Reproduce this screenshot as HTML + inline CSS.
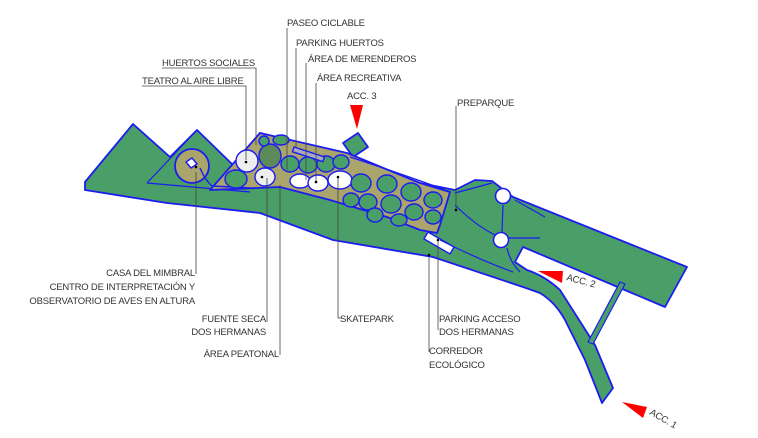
<!DOCTYPE html>
<html><head><meta charset="utf-8"><style>
html,body{margin:0;padding:0;background:#fff;}
svg{display:block;}
text{font-family:"Liberation Sans",sans-serif;font-size:9.5px;fill:#333;letter-spacing:-0.2px;}
</style></head><body>
<svg width="758" height="438" viewBox="0 0 758 438" xmlns="http://www.w3.org/2000/svg">
<g stroke="#1c1cf0" stroke-width="1.8" stroke-linejoin="round">
<path fill="#4a9e68" d="M85,182 L133,124 L170,157 L197,130 L233,165 L260,133 L350,157 L420,183 L455,190 L475,180 L492,181 L513,197 L687,267 L665,307 L523,247 L515,262 L527,270 Q545,276 560,290 L595,345 L613,388 L602,403 L585,360 L565,320 Q555,302 540,293 L523,287 L433,257 L333,240 L260,213 L167,203 L85,190 Z"/>
<path fill="#4a9e68" d="M343,143 L358,133 L368,147 L353,157 Z"/>
<path fill="#4a9e68" stroke-width="1.2" d="M620,282 L625,284 L593,344 L588,342 Z"/>
<path fill="none" stroke-width="1.2" d="M147,183 L197,130 M147,183 L250,192"/>
<path fill="#a9a56c" d="M260,133 L347,153 L420,183 L450,192 L440,225 L437,233 L420,230 L387,217 L330,200 L280,187 L210,190 Z"/>
<circle cx="192" cy="166" r="17" fill="#a9a56c"/>
<path fill="#fff" stroke-width="1.4" d="M186,162 L192,158 L197,164 L191,168 Z"/>
<path fill="none" stroke-width="1.4" d="M200,168 Q205,180 212,186 L250,188"/>
</g>
<g stroke="#1c1cf0" stroke-width="1.4" fill="#4a9e68">
<ellipse cx="247" cy="161" rx="11" ry="11" fill="#eee"/>
<ellipse cx="270" cy="156" rx="11" ry="12" fill="#5d8a5a"/>
<ellipse cx="265" cy="177" rx="10" ry="9" fill="#eee"/>
<ellipse cx="236" cy="179" rx="11" ry="9"/>
<ellipse cx="264" cy="141" rx="5" ry="5"/>
<ellipse cx="281" cy="140" rx="8" ry="5"/>
<ellipse cx="290" cy="164" rx="9" ry="8"/>
<ellipse cx="308" cy="165" rx="9" ry="8"/>
<ellipse cx="300" cy="181" rx="10" ry="7" fill="#fff"/>
<ellipse cx="318" cy="183" rx="10" ry="8" fill="#fff"/>
<ellipse cx="340" cy="180" rx="12" ry="9" fill="#fff"/>
<ellipse cx="326" cy="164" rx="9" ry="8"/>
<ellipse cx="341" cy="162" rx="8" ry="7"/>
<ellipse cx="361" cy="183" rx="10" ry="9"/>
<ellipse cx="368" cy="202" rx="9" ry="8"/>
<ellipse cx="351" cy="200" rx="8" ry="7"/>
<ellipse cx="387" cy="184" rx="10" ry="9"/>
<ellipse cx="391" cy="204" rx="10" ry="9"/>
<ellipse cx="411" cy="192" rx="10" ry="9"/>
<ellipse cx="414" cy="212" rx="9" ry="8"/>
<ellipse cx="433" cy="200" rx="9" ry="8"/>
<ellipse cx="433" cy="217" rx="8" ry="7"/>
<ellipse cx="375" cy="215" rx="8" ry="7"/>
<ellipse cx="399" cy="220" rx="8" ry="6"/>
<rect x="294" y="147" width="32" height="5" fill="#aab" transform="rotate(18 294 147)"/>
<rect x="428" y="232" width="30" height="8" fill="#fff" transform="rotate(30 428 232)"/>
</g>
<g fill="none" stroke="#1c1cf0" stroke-width="1.2">
<path d="M350,157 Q420,180 450,192"/>
<path d="M455,193 L492,183"/>
<path d="M515,200 L545,217"/>
<path d="M455,205 Q475,225 495,235"/>
<path d="M508,238 L540,238"/>
<path d="M440,240 Q480,260 513,272"/>
<path d="M503,205 L502,232 M507,248 Q510,262 520,272"/>
</g>
<circle cx="503" cy="196" r="7.5" fill="#fff" stroke="#1c1cf0" stroke-width="1.6"/>
<circle cx="501" cy="240" r="7.5" fill="#fff" stroke="#1c1cf0" stroke-width="1.6"/>
<polygon fill="#f00" points="350,105 363,105 357,129"/>
<polygon fill="#f00" points="538,271 563,271 562,283"/>
<polygon fill="#f00" points="622,402 647,407 643,418"/>
<g stroke="#444" stroke-width="0.8" fill="none">
<path d="M287,28 V170"/>
<path d="M296,48 V148"/>
<path d="M306,63 V180"/>
<path d="M316,83 V182"/>
<path d="M162,68 H256 V145"/>
<path d="M142,86 H246 V160"/>
<path d="M456,106 V210"/>
<path d="M196,172 V274"/>
<path d="M267,178 V322"/>
<path d="M280,185 V355"/>
<path d="M338,176 V318 H342"/>
<path d="M438,238 V330"/>
<path d="M429,255 V352"/>
</g>
<g fill="#000">
<circle cx="246" cy="162" r="1.3"/><circle cx="262" cy="177" r="1.3"/><circle cx="316" cy="182" r="1.3"/><circle cx="338" cy="177" r="1.3"/><circle cx="456" cy="210" r="1.3"/><circle cx="438" cy="240" r="1.3"/><circle cx="429" cy="255" r="1.3"/><circle cx="196" cy="167" r="1.3"/>
</g>
<text x="287" y="26">PASEO CICLABLE</text>
<text x="296" y="46">PARKING HUERTOS</text>
<text x="308" y="62">ÁREA DE MERENDEROS</text>
<text x="317" y="81">ÁREA RECREATIVA</text>
<text x="347" y="99">ACC. 3</text>
<text x="162" y="66">HUERTOS SOCIALES</text>
<text x="142" y="84">TEATRO AL AIRE LIBRE</text>
<text x="457" y="106">PREPARQUE</text>
<g text-anchor="end">
<text x="195" y="276">CASA DEL MIMBRAL</text>
<text x="195" y="290">CENTRO DE INTERPRETACIÓN Y</text>
<text x="195" y="304">OBSERVATORIO DE AVES EN ALTURA</text>
<text x="266" y="322">FUENTE SECA</text>
<text x="266" y="335">DOS HERMANAS</text>
<text x="279" y="357">ÁREA PEATONAL</text>
</g>
<text x="340" y="322">SKATEPARK</text>
<text x="439" y="322">PARKING ACCESO</text>
<text x="439" y="335">DOS HERMANAS</text>
<text x="429" y="354">CORREDOR</text>
<text x="429" y="368">ECOLÓGICO</text>
<text x="566" y="280" transform="rotate(15 566 280)">ACC. 2</text>
<text x="649" y="414" transform="rotate(30 649 414)">ACC. 1</text>
</svg>
</body></html>
